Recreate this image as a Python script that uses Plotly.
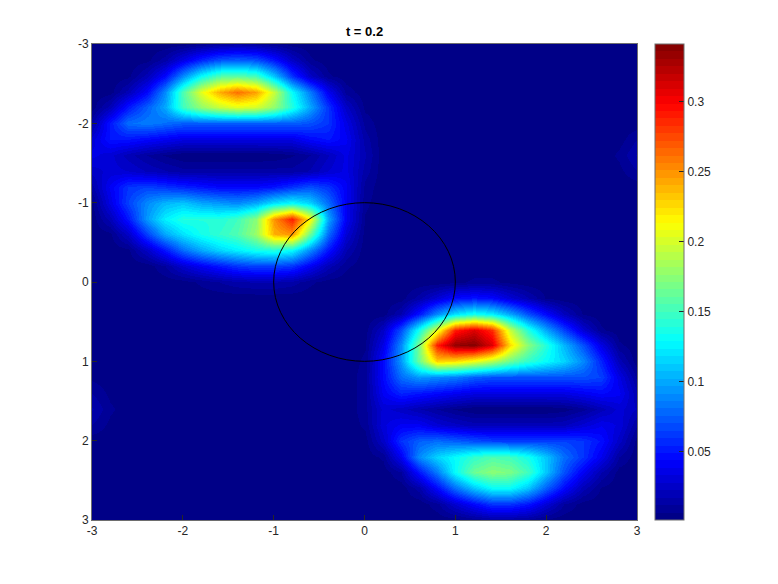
import numpy as np
import plotly.graph_objects as go

x_values = [round(-3 + 0.2 * i, 1) for i in range(31)]
y_values = [round(-3 + 0.2 * i, 1) for i in range(31)]
tick_vals = [-3, -2, -1, 0, 1, 2, 3]
cbar_ticks = [0.05, 0.1, 0.15, 0.2, 0.25, 0.3]
cbar_labels = ["0.05", "0.1", "0.15", "0.2", "0.25", "0.3"]
title_text = "t = 0.2"

# density, in thousandths; row = y, column = x
z_milli = [
 [3,3,3,3,3,4,8,12,14,12,8,4,3,3,3,3, 3,3,3,3,3,3,3,3,3,3,3,3,3,3,3],
 [3,3,3,5,15,35,55,70,75,70,50,25,8,3,3,3, 3,3,3,3,3,3,3,3,3,3,3,3,3,3,3],
 [3,3,5,20,45,90,130,155,160,150,110,60,25,8,3,3, 3,3,3,3,3,3,3,3,3,3,3,3,3,3,3],
 [3,4,20,45,90,155,205,240,262,245,195,130,85,40,10,3, 3,3,3,3,3,3,3,3,3,3,3,3,3,3,3],
 [4,20,50,75,100,150,178,195,205,200,178,140,100,60,25,5, 3,3,3,3,3,3,3,3,3,3,3,3,3,3,3],
 [15,50,80,85,80,75,75,75,75,75,75,75,70,60,35,10, 3,3,3,3,3,3,3,3,3,3,3,3,3,3,3],
 [30,50,50,45,40,35,35,35,35,35,35,35,45,50,40,15, 3,3,3,3,3,3,3,3,3,3,3,3,3,4,12],
 [35,30,20,12,6,2,2,2,2,2,3,6,12,22,35,18, 3,3,3,3,3,3,3,3,3,3,3,3,3,8,18],
 [25,30,28,22,18,14,14,14,14,14,14,14,18,28,35,15, 3,3,3,3,3,3,3,3,3,3,3,3,3,5,12],
 [15,40,60,65,60,55,50,45,45,45,50,60,70,60,40,10, 3,3,3,3,3,3,3,3,3,3,3,3,3,3,3],
 [5,35,65,90,105,110,100,95,90,100,120,130,115,80,40,8, 3,3,3,3,3,3,3,3,3,3,3,3,3,3,3],
 [3,20,50,95,125,140,140,140,150,175,250,290,215,100,40,6, 3,3,3,3,3,3,3,3,3,3,3,3,3,3,3],
 [3,5,25,65,100,120,135,145,155,180,240,250,165,80,30,4, 3,3,3,3,3,3,3,3,3,3,3,3,3,3,3],
 [3,3,5,25,50,80,100,115,125,135,140,130,90,50,18,3, 3,3,3,3,3,3,3,3,3,3,3,3,3,3,3],
 [3,3,3,3,12,28,40,50,60,65,65,60,40,20,8,3, 3,3,3,3,3,3,3,3,3,3,3,3,3,3,3],
 [3,3,3,3,3,4,8,12,16,18,18,15,8,4,3,3, 3,3,3,3,5,8,8,5,3,3,3,3,3,3,3],
 [3,3,3,3,3,3,3,3,3,3,3,3,3,3,3,3, 3,4,15,30,45,50,45,30,18,6,3,3,3,3,3],
 [3,3,3,3,3,3,3,3,3,3,3,3,3,3,3,3, 4,18,50,90,120,135,125,100,70,45,22,6,3,3,3],
 [3,3,3,3,3,3,3,3,3,3,3,3,3,3,3,4, 25,70,135,205,290,310,285,195,140,100,65,30,8,3,3],
 [3,3,3,3,3,3,3,3,3,3,3,3,3,3,3,6, 35,90,170,290,335,340,310,225,175,140,105,70,35,8,3],
 [3,3,3,3,3,3,3,3,3,3,3,3,3,3,3,8, 45,95,165,230,225,210,190,165,145,130,115,90,55,20,3],
 [5,3,3,3,3,3,3,3,3,3,3,3,3,3,3,10, 45,80,95,90,85,75,70,70,70,70,70,70,65,35,10],
 [12,5,3,3,3,3,3,3,3,3,3,3,3,3,3,10, 40,55,50,45,40,35,35,35,35,35,35,40,45,40,18],
 [18,8,3,3,3,3,3,3,3,3,3,3,3,3,3,10, 30,25,18,12,6,2,2,2,2,2,4,10,20,30,22],
 [12,5,3,3,3,3,3,3,3,3,3,3,3,3,3,8, 32,40,40,30,25,20,20,20,20,20,22,30,38,32,12],
 [3,3,3,3,3,3,3,3,3,3,3,3,3,3,3,4, 25,60,75,80,75,70,65,65,65,65,65,60,48,25,4],
 [3,3,3,3,3,3,3,3,3,3,3,3,3,3,3,3, 8,40,90,115,130,145,155,150,135,110,80,60,38,12,3],
 [3,3,3,3,3,3,3,3,3,3,3,3,3,3,3,3, 3,12,50,85,130,165,175,170,150,110,70,40,18,4,3],
 [3,3,3,3,3,3,3,3,3,3,3,3,3,3,3,3, 3,3,15,45,80,110,130,130,110,75,45,20,6,3,3],
 [3,3,3,3,3,3,3,3,3,3,3,3,3,3,3,3, 3,3,3,10,28,45,60,60,50,30,12,4,3,3,3],
 [3,3,3,3,3,3,3,3,3,3,3,3,3,3,3,3, 3,3,3,3,4,8,12,12,10,5,3,3,3,3,3],
]
z_values = (np.array(z_milli) / 1000).tolist()


def jet_step(n=64):
    def f(t):
        r = np.clip(min(4 * t - 1.5, -4 * t + 4.5), 0, 1)
        g = np.clip(min(4 * t - 0.5, -4 * t + 3.5), 0, 1)
        b = np.clip(min(4 * t + 0.5, -4 * t + 2.5), 0, 1)
        return f"rgb({r*255:.0f},{g*255:.0f},{b*255:.0f})"
    scale = []
    for k in range(n):
        c = f((k + 0.5) / n)
        scale.append([k / n, c])
        scale.append([(k + 1) / n, c])
    return scale


font_family = "Liberation Sans, Arial, sans-serif"
text_color = "#262626"
frame = "#6e6e6e"

fig = go.Figure(go.Heatmap(
    x=x_values, y=y_values, z=z_values,
    zmin=0.0014, zmax=0.3414, zsmooth="best",
    colorscale=jet_step(),
    colorbar=dict(
        thickness=29, thicknessmode="pixels",
        len=1, lenmode="fraction", y=0.5, yanchor="middle",
        x=563 / 545, xanchor="left", xpad=0, ypad=0,
        outlinewidth=1, outlinecolor=frame,
        ticks="inside", ticklen=5, tickwidth=1, tickcolor=text_color,
        tickvals=cbar_ticks, ticktext=cbar_labels,
        tickfont=dict(size=12, color=text_color, family=font_family),
    ),
))

axis_style = dict(
    tickvals=tick_vals, ticktext=[str(v) for v in tick_vals],
    ticks="inside", ticklen=5, tickwidth=1, tickcolor=text_color,
    showline=True, linecolor=frame, linewidth=1, mirror=True,
    showgrid=False, zeroline=False,
    tickfont=dict(size=12, color=text_color, family=font_family),
)

fig.update_layout(
    width=778, height=584,
    margin=dict(l=84, r=149, t=36, b=72, pad=0),
    paper_bgcolor="white", plot_bgcolor="#00007f",
    xaxis=dict(range=[-3, 3], **axis_style),
    yaxis=dict(range=[3, -3], **axis_style),
    title=dict(
        text=f"<b>{title_text}</b>", x=356.5 / 778, xanchor="center",
        y=1 - 23 / 584, yanchor="middle",
        font=dict(size=13, color="black", family=font_family),
    ),
    shapes=[dict(type="circle", xref="x", yref="y", x0=-1, x1=1, y0=-1, y1=1,
                 line=dict(color="black", width=1))],
)

fig.write_html("out.html")
